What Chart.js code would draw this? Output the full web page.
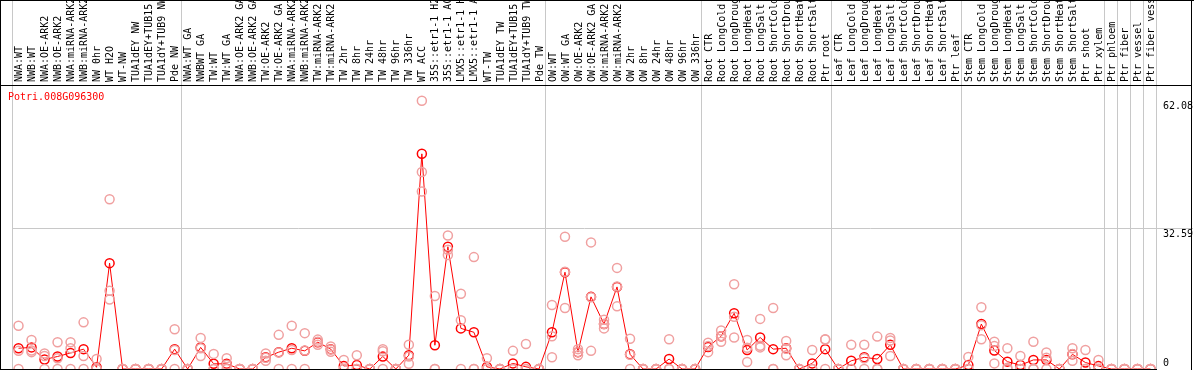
<!DOCTYPE html>
<html>
<head>
<meta charset="utf-8">
<script src="https://cdn.jsdelivr.net/npm/chart.js@4/dist/chart.umd.min.js"></script>
<style>
  html, body { margin: 0; padding: 0; background: #fff; }
  canvas { display: block; }
</style>
</head>
<body>
<canvas id="exprChart" width="1194" height="370"></canvas>
<script>
const geneName = 'Potri.008G096300';

const samples = [
    'NWA:WT', 'NWB:WT', 'NWA:OE-ARK2', 'NWB:OE-ARK2', 'NWA:miRNA-ARK2', 'NWB:miRNA-ARK2',
    'NW 0hr', 'WT H2O', 'WT-NW', 'TUA1dEY NW', 'TUA1dEY+TUB15 NW', 'TUA1dY+TUB9 NW', 'Pde NW',
    'NWA:WT GA', 'NWBWT GA', 'TW:WT', 'TW:WT GA', 'NWA:OE-ARK2 GA', 'NWB:OE-ARK2 GA',
    'TW:OE-ARK2', 'TW:OE-ARK2 GA', 'NWA:miRNA-ARK2', 'NWB:miRNA-ARK2', 'TW:miRNA-ARK2',
    'TW:miRNA-ARK2', 'TW 2hr', 'TW 8hr', 'TW 24hr', 'TW 48hr', 'TW 96hr', 'TW 336hr',
    'WT ACC', '35S::etr1-1 H2O', '35S::etr1-1 ACC', 'LMX5::etr1-1 H2O', 'LMX5::etr1-1 ACC',
    'WT-TW', 'TUA1dEY TW', 'TUA1dEY+TUB15 TW', 'TUA1dY+TUB9 TW', 'Pde TW',
    'OW:WT', 'OW:WT GA', 'OW:OE-ARK2', 'OW:OE-ARK2 GA', 'OW:miRNA-ARK2', 'OW:miRNA-ARK2',
    'OW 2hr', 'OW 8hr', 'OW 24hr', 'OW 48hr', 'OW 96hr', 'OW 336hr',
    'Root CTR', 'Root LongCold', 'Root LongDrought', 'Root LongHeat', 'Root LongSalt',
    'Root ShortCold', 'Root ShortDrought', 'Root ShortHeat', 'Root ShortSalt', 'Ptr root',
    'Leaf CTR', 'Leaf LongCold', 'Leaf LongDrought', 'Leaf LongHeat', 'Leaf LongSalt',
    'Leaf ShortCold', 'Leaf ShortDrought', 'Leaf ShortHeat', 'Leaf ShortSalt', 'Ptr leaf',
    'Stem CTR', 'Stem LongCold', 'Stem LongDrought', 'Stem LongHeat', 'Stem LongSalt',
    'Stem ShortCold', 'Stem ShortDrought', 'Stem ShortHeat', 'Stem ShortSalt', 'Ptr shoot',
    'Ptr xylem', 'Ptr phloem', 'Ptr fiber', 'Ptr vessel', 'Ptr fiber vessel'
];

// first sample of each group (gray separators)
const groupStarts = [0, 13, 41, 53, 63, 73, 84, 85, 86, 87];

// mean expression (line)
const meanValues = [
    4.8, 5.0, 2.2, 2.9, 3.7, 4.6, 0.4, 24.5, 0, 0,
    0, 0, 4.6, 0, 5.0, 1.2, 1.2, 0, 0, 2.7,
    3.9, 4.8, 4.2, 6.2, 4.6, 0.7, 0.9, 0, 2.9, 0,
    3.2, 49.8, 5.5, 28.3, 9.4, 8.5, 0.5, 0, 1.3, 0.5,
    0, 8.5, 22.4, 3.9, 16.7, 10.4, 19.0, 3.4, 0, 0,
    2.3, 0, 0, 5.1, 7.6, 12.9, 4.4, 7.3, 4.6, 4.8,
    0, 1.3, 4.6, 0, 1.9, 2.7, 2.3, 5.6, 0, 0,
    0, 0, 0, 0.9, 10.4, 4.3, 1.7, 0.9, 2.1, 2.1,
    0, 3.4, 1.5, 0.7, 0, 0, 0, 0
];

// individual replicates (pale circles)
const rep1 = [
    10.0, 6.7, 3.6, 6.2, 6.2, 10.8, 2.3, 39.3, 0, 0,
    0, 0, 9.2, 0, 7.2, 3.5, 2.5, 0, 0, 3.6,
    7.9, 10.0, 8.3, 6.8, 5.2, 2.1, 3.2, 0, 4.6, 0,
    5.6, 62.08, 16.9, 30.9, 17.4, 25.9, 2.5, 0, 4.2, 5.8,
    0, 14.8, 30.6, 4.6, 29.3, 11.4, 23.4, 7.0, 0, 0,
    6.9, 0, 0, 6.1, 8.9, 19.6, 6.7, 11.6, 14.1, 6.5,
    0, 4.4, 6.9, 0, 5.6, 5.6, 7.5, 7.2, 0, 0,
    0, 0, 0, 2.8, 14.3, 6.3, 4.8, 3.0, 6.3, 3.8,
    0, 4.8, 4.4, 2.1, 0, 0, 0, 0
];
const rep2 = [
    4.2, 4.3, 3.0, 2.5, 4.8, 3.0, 0, 18.1, 0, 0,
    0, 0, 4.4, 0, 4.8, 0, 1.0, 0, 0, 2.6,
    3.8, 4.4, 4.3, 6.3, 4.5, 0, 0, 0, 4.1, 0,
    2.9, 45.6, 0, 27.6, 11.3, 0, 0, 0, 0, 0,
    0, 7.6, 22.5, 3.9, 16.6, 10.4, 19.1, 3.3, 0, 0,
    0, 0, 0, 5.3, 7.6, 12.1, 4.9, 5.4, 0, 4.7,
    0, 0, 6.8, 0, 0, 2.5, 0, 6.6, 0, 0,
    0, 0, 0, 0, 10.1, 5.3, 0.3, 0, 0, 2.6,
    0, 3.5, 0, 0, 0, 0, 0, 0
];
const rep3 = [
    0, 3.9, 0, 0, 0, 0, 0, 16.1, 0, 0,
    0, 0, 0, 0, 3.0, 0, 0, 0, 0, 1.9,
    0, 0, 0, 5.6, 4.0, 0, 0, 0, 0, 0,
    1.2, 41.1, 0, 26.4, 0, 0, 0, 0, 0, 0,
    0, 2.7, 14.1, 3.2, 4.2, 9.4, 14.5, 0, 0, 0,
    0, 0, 0, 3.9, 6.3, 7.3, 1.6, 5.0, 0, 3.2,
    0, 0, 0, 0, 0, 0, 0, 3.0, 0, 0,
    0, 0, 0, 0, 6.9, 1.3, 0, 0, 0, 0,
    0, 1.9, 0, 0, 0, 0, 0, 0
];

const yTicks = [0, 32.59, 62.08];
const yMax = 65.5;

const monoFont = { family: "'DejaVu Sans Mono', 'Liberation Mono', monospace", size: 10 };
const sepColor = '#c8c8c8';
const paleRed = '#f0a0a0';

// frame lines + gene name
const framePlugin = {
    id: 'frame',
    afterDraw(chart) {
        const ctx = chart.ctx;
        const area = chart.chartArea;
        const w = chart.width, h = chart.height;
        ctx.save();
        ctx.strokeStyle = '#000';
        ctx.lineWidth = 1;
        ctx.beginPath();
        ctx.moveTo(0, 0.5); ctx.lineTo(w, 0.5);
        ctx.moveTo(0.5, 0); ctx.lineTo(0.5, h);
        ctx.moveTo(w - 2.5, 0); ctx.lineTo(w - 2.5, h);
        ctx.moveTo(0, Math.round(area.top) - 0.5); ctx.lineTo(w - 2, Math.round(area.top) - 0.5);
        ctx.moveTo(0, Math.round(area.bottom) + 0.5); ctx.lineTo(area.right, Math.round(area.bottom) + 0.5);
        ctx.stroke();
        ctx.fillStyle = '#ff0000';
        ctx.font = "10px 'DejaVu Sans Mono', monospace";
        ctx.textBaseline = 'middle';
        ctx.fillText(geneName, 8, area.top + 11);
        ctx.restore();
    }
};

function repDataset(values) {
    return {
        data: values,
        showLine: false,
        borderColor: paleRed,
        backgroundColor: 'transparent',
        pointRadius: 4.5,
        pointBorderWidth: 1.5,
        pointStyle: 'circle',
        clip: false
    };
}

new Chart(document.getElementById('exprChart'), {
    type: 'line',
    data: {
        labels: samples,
        datasets: [
            repDataset(rep1),
            repDataset(rep2),
            repDataset(rep3),
            {
                data: meanValues,
                borderColor: '#ff0000',
                borderWidth: 1,
                backgroundColor: 'transparent',
                pointRadius: 4.5,
                pointBorderWidth: 1.5,
                pointBorderColor: '#ff0000',
                tension: 0,
                clip: false
            }
        ]
    },
    options: {
        responsive: false,
        animation: false,
        devicePixelRatio: 1,
        layout: { autoPadding: false, padding: { left: 12, right: 0, top: 0, bottom: 1 } },
        plugins: {
            legend: { display: false },
            tooltip: { enabled: false }
        },
        scales: {
            x: {
                position: 'top',
                offset: true,
                afterFit: function(scale) {
                    scale.height = 86;
                    scale.paddingLeft = 0;
                    scale.paddingRight = 0;
                },
                border: { display: false },
                grid: {
                    offset: true,
                    drawTicks: true,
                    tickLength: 86,
                    lineWidth: 1,
                    color: c => (c.index === undefined || groupStarts.includes(c.index)) ? sepColor : 'transparent',
                    tickColor: c => (c.index === undefined || groupStarts.includes(c.index)) ? sepColor : 'transparent'
                },
                ticks: {
                    autoSkip: false,
                    minRotation: 90,
                    maxRotation: 90,
                    padding: -82,
                    labelOffset: 13,
                    color: '#000',
                    font: monoFont
                }
            },
            y: {
                position: 'right',
                min: 0,
                max: yMax,
                afterFit: function(scale) {
                    scale.width = 37;
                    scale.paddingTop = 0;
                    scale.paddingBottom = 0;
                },
                afterBuildTicks: function(scale) {
                    scale.ticks = yTicks.map(v => ({ value: v }));
                },
                border: { display: false },
                grid: {
                    drawTicks: true,
                    tickLength: 36,
                    color: c => (c.tick && c.tick.value === 32.59) ? sepColor : 'transparent',
                    tickColor: c => (c.tick && c.tick.value === 32.59) ? sepColor : 'transparent'
                },
                ticks: {
                    padding: -30,
                    color: '#000',
                    font: monoFont,
                    callback: function(value) {
                        return value === 0 ? [String(value), ''] : ['', String(value)];
                    }
                }
            }
        }
    },
    plugins: [framePlugin]
});
</script>
</body>
</html>
